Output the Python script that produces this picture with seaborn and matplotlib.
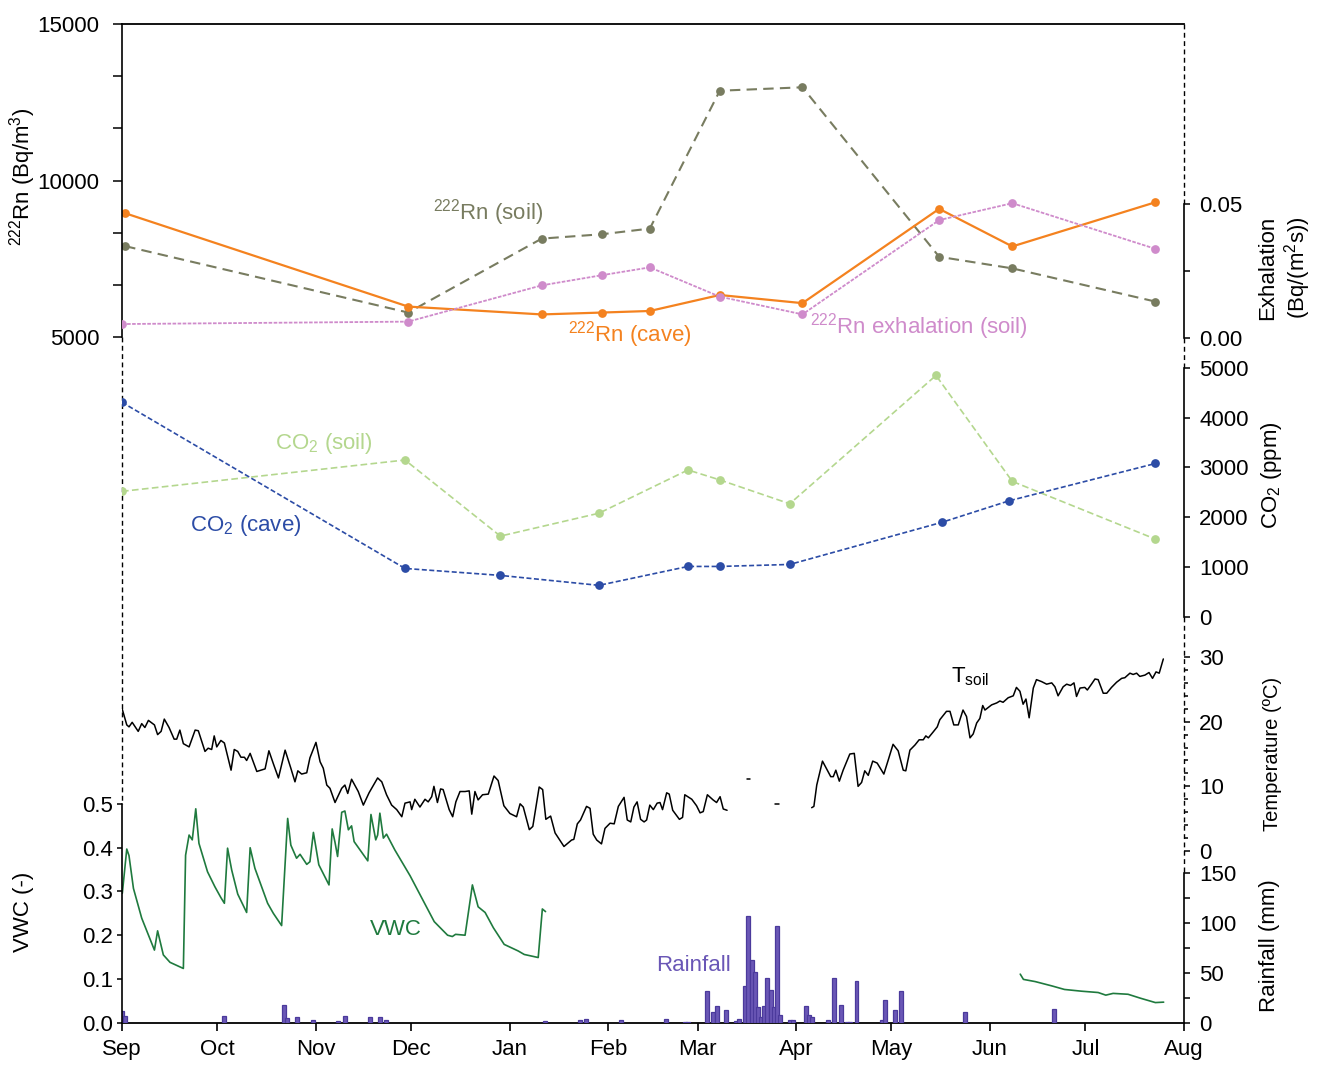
import numpy as np
import pandas as pd
import matplotlib
matplotlib.use("Agg")
import matplotlib.pyplot as plt
import matplotlib.dates as mdates
from matplotlib.ticker import FixedLocator, FormatStrFormatter, NullLocator
from matplotlib.lines import Line2D
import seaborn as sns

# ---------------- data (days since 2018-09-01) ----------------
START = pd.Timestamp("2018-09-01")
END = pd.Timestamp("2019-08-01")

rn_days = [1, 90, 132, 151, 166, 188, 214, 257, 280, 325]
rn_cave = [8960, 5980, 5730, 5790, 5840, 6350, 6090, 9100, 7900, 9310]
rn_soil = [7910, 5790, 8150, 8290, 8470, 12870, 12980, 7570, 7200, 6140]
rn_exh_days = [0, 90, 132, 151, 166, 188, 214, 257, 280, 325]
rn_exh = [0.0053, 0.0062, 0.0197, 0.0235, 0.0264, 0.0155, 0.0089, 0.0440, 0.0503, 0.0333]

co2_cave_days = [0, 89, 119, 150, 178, 188, 210, 258, 279, 325]
co2_cave = [4310, 970, 830, 630, 1010, 1010, 1050, 1900, 2330, 3080]
co2_soil_days = [0, 89, 119, 150, 178, 188, 210, 256, 280, 325]
co2_soil = [2520, 3150, 1620, 2080, 2950, 2750, 2270, 4850, 2720, 1560]

nan = np.nan
tsoil_days = [0.1, 1.5, 2.2, 3.2, 5.1, 6.2, 7.2, 8.3, 10.2, 11.2,
              12.3, 13.3, 14.8, 16.4, 17.2, 18.2, 19.3, 21.1, 23.0, 24.0,
              26.1, 27.1, 28.2, 29.0, 29.8, 31.1, 32.2, 34.3, 35.3, 36.4,
              37.4, 38.5, 39.2, 40.3, 42.4, 45.0, 46.2, 47.6, 49.2, 51.3,
              53.1, 54.4, 55.3, 56.5, 58.1, 59.1, 61.0, 62.3, 63.3, 64.4,
              65.4, 67.0, 69.1, 70.1, 71.0, 72.2, 74.3, 75.9, 77.7, 79.0,
              80.4, 81.7, 83.2, 84.8, 86.4, 88.0, 89.0, 90.6, 91.1, 92.1,
              93.7, 95.3, 96.3, 97.4, 98.1, 99.2, 100.2, 101.0, 102.9, 104.0,
              105.0, 106.3, 107.9, 109.2, 110.0, 111.0, 112.0, 113.4, 115.2, 117.0,
              118.3, 120.1, 122.0, 124.1, 125.2, 126.2, 128.1, 129.2, 131.2, 132.3,
              133.3, 134.8, 136.2, 139.0, 141.4, 142.1, 143.2, 144.2, 146.1, 147.2,
              148.2, 149.3, 150.8, 151.9, 153.5, 154.8, 156.1, 157.9, 158.9, 160.0,
              161.0, 162.0, 163.1, 164.2, 165.0, 166.0, 167.1, 168.3, 169.2, 170.0,
              171.3, 172.1, 173.2, 175.3, 176.3, 177.0, 179.2, 180.7, 181.8, 182.8,
              184.1, 185.9, 187.0, 188.1, 189.1, 190.3,
              193.0,
              196.5, 197.5,
              201.0,
              205.5, 206.5,
              212.0,
              216.9, 217.6, 218.5, 220.3, 221.6, 222.9, 223.7, 224.5, 225.6, 226.8,
              228.9, 230.3, 231.5, 232.6, 233.6, 234.7, 236.1, 237.5, 239.6, 241.0,
              242.5, 244.1, 245.7, 246.5, 247.8, 249.4, 250.7, 252.0, 252.8, 253.6,
              255.1, 256.4, 257.2, 259.3, 260.4, 261.6, 263.0, 264.5, 265.6, 266.7,
              267.7, 268.8, 269.8, 270.7, 271.4, 273.5, 275.1, 276.1, 277.1, 278.7,
              280.3, 281.3, 282.4, 283.4, 284.3, 285.3, 286.6, 287.6, 289.2, 290.8,
              292.4, 293.4, 294.4, 296.0, 297.1, 298.3, 299.4, 300.2, 301.3, 302.8,
              303.6, 304.9, 306.0, 307.0, 308.6, 309.7, 311.2, 312.8, 314.4, 315.4,
              317.0, 318.0, 319.1, 320.1, 321.7, 323.0, 324.1, 325.2, 326.2, 327.5]
tsoil = [21.9, 19.5, 19.2, 19.9, 18.5, 19.7, 19.1, 20.2, 19.5, 18.0,
         18.5, 20.4, 19.1, 17.3, 17.3, 18.7, 16.6, 16.1, 18.7, 18.6,
         15.4, 15.9, 15.7, 17.8, 16.1, 17.1, 16.7, 12.5, 15.7, 15.4,
         14.5, 14.5, 14.0, 15.1, 12.3, 12.7, 15.5, 13.5, 11.3, 15.6,
         12.8, 10.7, 12.4, 11.9, 12.1, 14.4, 16.8, 13.8, 12.8, 10.2,
         9.7, 7.5, 9.7, 10.2, 8.9, 11.1, 9.2, 7.1, 9.0, 10.1,
         11.3, 10.7, 8.7, 7.1, 6.4, 5.3, 7.4, 7.6, 6.4, 8.0,
         6.8, 8.0, 7.6, 8.4, 10.0, 7.5, 9.6, 9.5, 6.4, 5.3,
         7.6, 9.2, 9.2, 9.3, 5.7, 9.2, 7.9, 8.7, 8.8, 11.6,
         10.9, 7.0, 5.8, 5.3, 7.3, 6.8, 3.3, 3.8, 9.9, 9.5,
         4.9, 5.4, 2.8, 0.7, 1.7, 1.8, 4.2, 4.8, 6.9, 6.6,
         2.6, 1.7, 1.1, 3.5, 4.3, 4.2, 6.9, 8.3, 4.8, 4.5,
         6.8, 7.6, 4.9, 4.5, 4.8, 7.1, 6.4, 7.4, 7.5, 6.4,
         9.0, 8.8, 6.3, 4.9, 5.2, 8.7, 8.0, 7.0, 5.9, 6.1,
         8.7, 7.9, 7.5, 8.4, 6.5, 6.3,
         nan,
         11.1, 11.1,
         nan,
         7.3, 7.3,
         nan,
         6.7, 6.9, 10.2, 13.9, 12.7, 11.5, 11.5, 12.5, 10.8, 12.5,
         15.0, 15.1, 10.0, 10.6, 12.4, 11.7, 13.9, 13.6, 11.9, 14.1,
         16.5, 15.5, 12.5, 12.4, 15.6, 16.4, 17.2, 17.2, 17.8, 17.5,
         18.4, 19.2, 20.3, 21.6, 21.6, 19.5, 19.5, 21.8, 20.8, 17.5,
         18.1, 19.8, 20.5, 22.5, 21.8, 22.6, 22.9, 23.2, 23.0, 23.7,
         24.0, 25.3, 24.7, 22.7, 23.5, 20.6, 25.2, 26.5, 26.2, 25.8,
         26.0, 25.4, 24.0, 25.4, 25.8, 25.6, 26.0, 23.9, 25.2, 25.3,
         24.9, 25.8, 26.6, 26.5, 24.4, 24.4, 25.3, 26.1, 26.7, 26.8,
         27.5, 27.3, 27.5, 27.0, 27.2, 27.6, 26.7, 27.7, 27.5, 29.7]

vwc_days = [0.1, 1.5, 2.2, 3.6, 6.2, 10.2, 11.2, 13.0, 15.1, 19.3,
            20.0, 21.1, 22.1, 23.2, 24.2, 26.9, 29.2, 31.1, 32.2, 33.2,
            34.5, 36.4, 39.2, 40.3, 41.8, 45.8, 47.6, 50.2, 52.1, 53.1,
            54.9, 56.0, 58.1, 59.1, 60.2, 61.9, 65.1, 66.1, 67.0, 67.8,
            69.1, 70.1, 71.2, 72.2, 73.0, 77.3, 78.3, 79.8, 80.4, 81.1,
            82.2, 83.2, 85.8, 90.6, 92.7, 98.2, 102.4, 103.9, 104.9, 107.9,
            110.2, 112.0, 114.2, 116.8, 120.2, 124.6, 126.5, 130.9, 132.2, 133.2,
            200.0,
            282.5, 283.5, 287.2, 292.5, 296.4, 301.8, 307.0, 309.4, 311.7, 316.4,
            320.3, 325.0, 327.6]
vwc = [0.296, 0.397, 0.382, 0.307, 0.239, 0.166, 0.210, 0.155, 0.138, 0.124,
       0.383, 0.429, 0.418, 0.489, 0.410, 0.345, 0.311, 0.286, 0.273, 0.399,
       0.349, 0.294, 0.252, 0.400, 0.353, 0.273, 0.250, 0.222, 0.467, 0.406,
       0.376, 0.385, 0.362, 0.368, 0.435, 0.361, 0.315, 0.443, 0.412, 0.380,
       0.481, 0.484, 0.441, 0.450, 0.414, 0.370, 0.476, 0.418, 0.429, 0.479,
       0.422, 0.431, 0.395, 0.336, 0.307, 0.231, 0.200, 0.197, 0.202, 0.200,
       0.315, 0.265, 0.252, 0.217, 0.179, 0.164, 0.156, 0.149, 0.260, 0.254,
       nan,
       0.111, 0.099, 0.094, 0.084, 0.076, 0.072, 0.069, 0.063, 0.067, 0.065,
       0.056, 0.046, 0.047]

rain_days = [0, 1, 32, 51, 52, 55, 60, 68, 70, 78,
             81, 83, 133, 144, 146, 157, 171, 177, 178, 184,
             186, 187, 190, 193, 194, 196, 197, 198, 199, 200,
             201, 202, 203, 204, 205, 206, 207, 210, 211, 215,
             216, 217, 222, 224, 226, 228, 229, 231, 239, 240,
             243, 245, 265, 293]
rain_mm = [12, 7, 7, 18, 5, 6, 3, 2, 7, 6,
           6, 3, 2, 3, 4, 3, 4, 1, 1, 32,
           11, 17, 13, 2, 4, 37, 107, 63, 51, 16,
           6, 17, 45, 33, 16, 97, 8, 3, 3, 17,
           8, 6, 3, 45, 18, 1, 1, 42, 3, 23,
           13, 32, 11, 14]

# ---------------- colours ----------------
C_ORANGE = "#f4821f"
C_SOILRN = "#787c60"
C_PINK = "#cf8bcb"
C_BLUE = "#2c4ca6"
C_LGREEN = "#b4d78e"
C_VWC = "#1f7a3e"
C_RAIN = "#6a57b6"
C_RAIN_EDGE = "#4b3a9c"


def to_dates(days):
    return START + pd.to_timedelta(np.asarray(days, dtype=float), unit="D")


def seg_frame(days, vals, name):
    df = pd.DataFrame({"date": to_dates(days), name: vals})
    df["seg"] = df[name].isna().cumsum()
    return df.dropna()


# ---------------- style ----------------
sns.set_theme(style="ticks")
plt.rcParams["font.family"] = ["Liberation Sans", "DejaVu Sans"]
plt.rcParams["mathtext.fontset"] = "custom"
plt.rcParams["mathtext.rm"] = "Liberation Sans"
plt.rcParams["mathtext.it"] = "Liberation Sans:italic"
plt.rcParams["mathtext.bf"] = "Liberation Sans:bold"
plt.rcParams["axes.linewidth"] = 1.2

W, H = 1321, 1065
fig = plt.figure(figsize=(W / 100, H / 100), dpi=100)
PX_L, PX_R, PX_T, PX_B = 122, 1184, 24, 1022.7
ax = fig.add_axes([PX_L / W, 1 - PX_B / H, (PX_R - PX_L) / W, (PX_B - PX_T) / H])
ax.patch.set_visible(False)

ax_rain = ax.twinx()
ax_vwc = ax.twinx()
ax_ex = ax.twinx()
ax_co2 = ax.twinx()
ax_t = ax.twinx()

# ---------------- draw ----------------
mk = dict(marker="o", markersize=6.3, markeredgewidth=0)

df_rn = pd.DataFrame({"date": to_dates(rn_days), "cave": rn_cave, "soil": rn_soil})
df_ex = pd.DataFrame({"date": to_dates(rn_exh_days), "exh": rn_exh})
df_cc = pd.DataFrame({"date": to_dates(co2_cave_days), "co2": co2_cave})
df_cs = pd.DataFrame({"date": to_dates(co2_soil_days), "co2": co2_soil})

sns.lineplot(data=df_ex, x="date", y="exh", ax=ax_ex, color=C_PINK, lw=1.3,
             linestyle=(0, (2, 0.8)), markeredgecolor=C_PINK, **mk)
sns.lineplot(data=df_rn, x="date", y="soil", ax=ax, color=C_SOILRN, lw=1.5,
             linestyle=(0, (5, 3)), markeredgecolor=C_SOILRN, **mk)
sns.lineplot(data=df_rn, x="date", y="cave", ax=ax, color=C_ORANGE, lw=1.6,
             markeredgecolor=C_ORANGE, **mk)
sns.lineplot(data=df_cs, x="date", y="co2", ax=ax_co2, color=C_LGREEN, lw=1.2,
             linestyle=(0, (4, 2)), markeredgecolor=C_LGREEN, **mk)
sns.lineplot(data=df_cc, x="date", y="co2", ax=ax_co2, color=C_BLUE, lw=1.2,
             linestyle=(0, (3, 1.5)), markeredgecolor=C_BLUE, **mk)

df_t = seg_frame(tsoil_days, tsoil, "T")
sns.lineplot(data=df_t, x="date", y="T", units="seg", estimator=None, ax=ax_t,
             color="black", lw=1.1)
df_v = seg_frame(vwc_days, vwc, "vwc")
sns.lineplot(data=df_v, x="date", y="vwc", units="seg", estimator=None, ax=ax_vwc,
             color=C_VWC, lw=1.2)

ax_rain.bar(to_dates(rain_days), rain_mm, width=1.25, color=C_RAIN,
            edgecolor=C_RAIN_EDGE, linewidth=0.9, zorder=1)


# ---------------- axes styling ----------------
def style_axis(a, side, bounds, ylim, majors, minors=(), fmt=None,
               major_len=4.0, minor_len=4.0, pad=7.0, show_spine=True):
    for s in a.spines.values():
        s.set_visible(False)
    a.set_ylim(*ylim)
    if show_spine:
        sp = a.spines[side]
        sp.set_visible(True)
        sp.set_bounds(*bounds)
        sp.set_linewidth(1.2)
        sp.set_color("black")
    if side == "left":
        a.yaxis.tick_left()
    else:
        a.yaxis.tick_right()
    a.yaxis.set_major_locator(FixedLocator(majors))
    a.yaxis.set_minor_locator(FixedLocator(list(minors)))
    if fmt:
        a.yaxis.set_major_formatter(FormatStrFormatter(fmt))
    a.tick_params(axis="y", which="major", direction="out", length=major_len, width=1.1,
                  labelsize=16, pad=pad, color="black", labelcolor="black")
    a.tick_params(axis="y", which="minor", direction="out", length=minor_len, width=1.1,
                  color="black")
    a.set_ylabel("")
    a.set_xlabel("")


style_axis(ax, "left", (5000, 15000), (-16877, 15000), [5000, 10000, 15000],
           [6666.7, 8333.3, 11666.7, 13333.3], "%d", major_len=6.2, minor_len=6.2, pad=10)
ax.spines["top"].set_visible(True)
ax.spines["bottom"].set_visible(True)
for s in ("top", "bottom"):
    ax.spines[s].set_linewidth(1.3)
    ax.spines[s].set_color("black")

style_axis(ax_vwc, "left", (0, 0.5), (0, 2.2832), [0, 0.1, 0.2, 0.3, 0.4, 0.5], (), "%.1f",
           major_len=3.5, pad=3)
style_axis(ax_ex, "right", (0, 0.05), (-0.25481, 0.11701), [0.0, 0.05], [0.025], "%.2f")
style_axis(ax_co2, "right", (0, 5000), (-8163, 11916), [0, 1000, 2000, 3000, 4000, 5000], (), "%d")
style_axis(ax_t, "right", (0, 30), (-26.55, 127.89), [0, 10, 20, 30],
           [2, 4, 6, 8, 12, 14, 16, 18, 22, 24, 26, 28], "%d", minor_len=3.0, show_spine=False)
style_axis(ax_rain, "right", (0, 150), (0, 1000.7), [0, 50, 100, 150], [25, 75, 125], "%d")

ax.set_xlim(START, END)
ax.xaxis.set_major_locator(mdates.MonthLocator())
ax.xaxis.set_major_formatter(mdates.DateFormatter("%b"))
ax.xaxis.set_minor_locator(NullLocator())
ax.tick_params(axis="x", which="major", direction="out", length=6, width=1.2,
               labelsize=16, pad=6, color="black", labelcolor="black", top=False)
ax.set_xlabel("")


# dashed spine segments (gaps between the individual y scales)
def yfrac(a, v):
    lo, hi = a.get_ylim()
    return (v - lo) / (hi - lo)


def dashed(x, y0, y1):
    ax.add_line(Line2D([x, x], [y0, y1], transform=ax.transAxes, color="black",
                       lw=1.0, linestyle=(0, (3.5, 2.5)), clip_on=False))


dashed(0, yfrac(ax, 5000), yfrac(ax_vwc, 0.5))
dashed(1, 1.0, yfrac(ax_ex, 0.05))
dashed(1, yfrac(ax_ex, 0.0), yfrac(ax_co2, 5000))
dashed(1, yfrac(ax_co2, 0), yfrac(ax_rain, 150))


# ---------------- text ----------------
def ftext(px, py, s, color="black", size=16, **kw):
    fig.text(px / W, 1 - py / H, s, color=color, fontsize=size, **kw)


ftext(488, 220, r"$\mathregular{^{222}}$Rn (soil)", C_SOILRN, ha="center", va="baseline")
ftext(630, 341, r"$\mathregular{^{222}}$Rn (cave)", C_ORANGE, ha="center", va="baseline")
ftext(919, 334, r"$\mathregular{^{222}}$Rn exhalation (soil)", C_PINK, ha="center", va="baseline")
ftext(324, 449, r"CO$\mathregular{_2}$ (soil)", C_LGREEN, ha="center", va="baseline")
ftext(246, 531, r"CO$\mathregular{_2}$ (cave)", C_BLUE, ha="center", va="baseline")
ftext(951, 682, r"T$\mathregular{_{soil}}$", "black", ha="left", va="baseline")
ftext(396, 935, "VWC", C_VWC, ha="center", va="baseline")
ftext(694, 971, "Rainfall", C_RAIN, ha="center", va="baseline")

ftext(23, 177, r"$\mathregular{^{222}}$Rn (Bq/m$\mathregular{^{3}}$)", rotation=90, ha="center", va="center")
ftext(23, 912, "VWC (-)", rotation=90, ha="center", va="center")
ftext(1285, 268, "Exhalation\n" + r"(Bq/(m$\mathregular{^{2}}$s))", rotation=90,
      ha="center", va="center", multialignment="center")
ftext(1272, 475, r"CO$\mathregular{_2}$ (ppm)", rotation=90, ha="center", va="center")
ftext(1272, 754, "Temperature (ºC)", size=14.5, rotation=90, ha="center", va="center")
ftext(1270, 946, "Rainfall (mm)", rotation=90, ha="center", va="center")

fig.savefig("out.png", dpi=100)
